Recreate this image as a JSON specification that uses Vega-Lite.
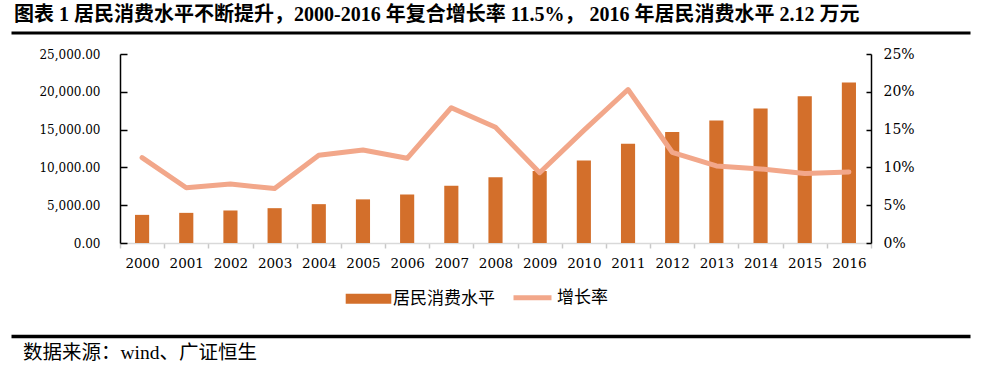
{
  "$schema": "https://vega.github.io/schema/vega-lite/v6.json",
  "background": "white",
  "padding": {"left": 11, "top": 5, "right": 12, "bottom": 5},
  "columns": 1,
  "spacing": 14,
  "config": {"view": {"stroke": null}},
  "resolve": {"scale": {"color": "independent"}, "legend": {"color": "independent"}},
  "concat": [
    {
      "width": 959,
      "height": 3.5,
      "data": {"values": [{}]},
      "title": {
        "text": "图表 1 居民消费水平不断提升，2000-2016 年复合增长率 11.5%，  2016 年居民消费水平 2.12 万元",
        "anchor": "start",
        "font": "Liberation Serif, Noto Sans CJK SC",
        "fontSize": 20,
        "fontWeight": "bold",
        "color": "black",
        "offset": 4,
        "dx": 3
      },
      "mark": {"type": "rule", "opacity": 0},
      "encoding": {
        "x": {
          "datum": 0,
          "type": "quantitative",
          "scale": {"domain": [0, 1]},
          "axis": {"orient": "bottom", "domainColor": "black", "domainWidth": 3, "ticks": false, "labels": false, "grid": false, "title": null}
        }
      }
    },
    {
      "spacing": 0,
      "resolve": {"scale": {"color": "independent"}, "legend": {"color": "independent"}},
      "hconcat": [
        {
          "width": 1,
          "height": 1,
          "data": {"values": [{}]},
          "mark": {"type": "rule", "opacity": 0},
          "encoding": {"x": {"datum": 0, "type": "quantitative", "axis": null}}
        },
        {
          "width": 751,
          "height": 189,
          "data": {
            "values": [
              {"year": "2000", "consumption": 3721, "growth": 0.113},
              {"year": "2001", "consumption": 3987, "growth": 0.073},
              {"year": "2002", "consumption": 4301, "growth": 0.078},
              {"year": "2003", "consumption": 4606, "growth": 0.072},
              {"year": "2004", "consumption": 5138, "growth": 0.116},
              {"year": "2005", "consumption": 5771, "growth": 0.123},
              {"year": "2006", "consumption": 6416, "growth": 0.112},
              {"year": "2007", "consumption": 7572, "growth": 0.179},
              {"year": "2008", "consumption": 8707, "growth": 0.153},
              {"year": "2009", "consumption": 9514, "growth": 0.093},
              {"year": "2010", "consumption": 10919, "growth": 0.149},
              {"year": "2011", "consumption": 13134, "growth": 0.203},
              {"year": "2012", "consumption": 14699, "growth": 0.120},
              {"year": "2013", "consumption": 16190, "growth": 0.102},
              {"year": "2014", "consumption": 17778, "growth": 0.098},
              {"year": "2015", "consumption": 19397, "growth": 0.092},
              {"year": "2016", "consumption": 21228, "growth": 0.094}
            ]
          },
          "layer": [
            {
              "mark": {"type": "bar", "width": {"band": 0.32}},
              "encoding": {
                "x": {
                  "field": "year",
                  "type": "ordinal",
                  "scale": {"paddingInner": 0, "paddingOuter": 0},
                  "axis": {
                    "orient": "bottom",
                    "domainColor": "#d9d9d9",
                    "domainWidth": 1.5,
                    "tickColor": "#c8c8c8",
                    "tickWidth": 1.5,
                    "tickSize": 5,
                    "tickBand": "extent",
                    "labelPadding": 8,
                    "labelAngle": 0,
                    "labelFont": "DejaVu Serif",
                    "labelFontSize": 13.5,
                    "labelColor": "black",
                    "title": null
                  }
                },
                "y": {
                  "field": "consumption",
                  "type": "quantitative",
                  "scale": {"domain": [0, 25000]},
                  "axis": {
                    "orient": "left",
                    "values": [0, 5000, 10000, 15000, 20000, 25000],
                    "format": ",.2f",
                    "grid": false,
                    "domainColor": "black",
                    "domainWidth": 1.5,
                    "tickColor": "black",
                    "tickWidth": 1.5,
                    "tickSize": -7,
                    "labelPadding": 27,
                    "labelFont": "DejaVu Serif",
                    "labelFontSize": 12,
                    "labelColor": "black",
                    "title": null,
                    "minExtent": 108,
                    "maxExtent": 108
                  }
                },
                "color": {
                  "datum": "居民消费水平",
                  "type": "nominal",
                  "scale": {"domain": ["居民消费水平", "增长率"], "range": ["#D36F2B", "#F2A78A"]},
                  "legend": {
                    "orient": "none",
                    "legendX": 240,
                    "legendY": 235,
                    "direction": "horizontal",
                    "title": null,
                    "labelFont": "Noto Sans CJK SC",
                    "labelFontSize": 17,
                    "labelColor": "black",
                    "labelOffset": 16,
                    "columnPadding": 8,
                    "symbolSize": 1444,
                    "encode": {
                      "symbols": {
                        "update": {
                          "shape": {"signal": "datum.value === '增长率' ? 'stroke' : 'M-1.2,-0.26H1.2V0.26H-1.2Z'"},
                          "fill": {"signal": "datum.value === '增长率' ? 'transparent' : '#D36F2B'"},
                          "stroke": {"signal": "datum.value === '增长率' ? '#F2A78A' : 'transparent'"},
                          "strokeWidth": {"signal": "datum.value === '增长率' ? 5 : 0"},
                          "size": {"value": 1444},
                          "opacity": {"value": 1}
                        }
                      }
                    }
                  }
                }
              }
            },
            {
              "mark": {"type": "line", "strokeWidth": 5, "strokeCap": "round", "strokeJoin": "round"},
              "encoding": {
                "x": {"field": "year", "type": "ordinal"},
                "y": {
                  "field": "growth",
                  "type": "quantitative",
                  "scale": {"domain": [0, 0.25]},
                  "axis": {
                    "orient": "right",
                    "values": [0, 0.05, 0.1, 0.15, 0.2, 0.25],
                    "format": ".0%",
                    "grid": false,
                    "domainColor": "black",
                    "domainWidth": 1.5,
                    "tickColor": "black",
                    "tickWidth": 1.5,
                    "tickSize": -5,
                    "labelPadding": 17,
                    "labelFont": "DejaVu Serif",
                    "labelFontSize": 14,
                    "labelColor": "black",
                    "title": null
                  }
                },
                "color": {"datum": "增长率", "type": "nominal"}
              }
            }
          ],
          "resolve": {"scale": {"y": "independent"}}
        }
      ]
    },
    {
      "width": 959,
      "height": 14,
      "data": {"values": [{}]},
      "title": {
        "text": "数据来源：wind、广证恒生",
        "orient": "bottom",
        "anchor": "start",
        "font": "Liberation Serif, Noto Sans CJK SC",
        "fontSize": 19.5,
        "fontWeight": "normal",
        "color": "black",
        "offset": 8,
        "dx": 12
      },
      "mark": {"type": "rule", "opacity": 0},
      "encoding": {
        "x": {
          "datum": 0,
          "type": "quantitative",
          "scale": {"domain": [0, 1]},
          "axis": {"orient": "bottom", "domainColor": "black", "domainWidth": 3.5, "ticks": false, "labels": false, "grid": false, "title": null}
        }
      }
    }
  ]
}
